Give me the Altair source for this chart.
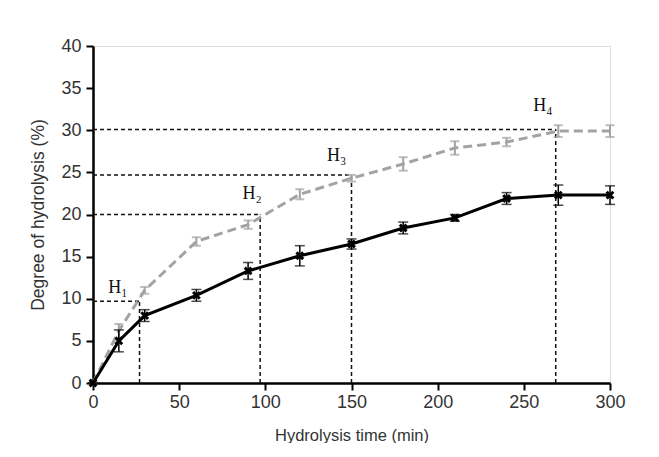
import altair as alt
import pandas as pd

times = [0, 15, 30, 60, 90, 120, 150, 180, 210, 240, 270, 300]
gray_vals = [0, 6.2, 11.0, 16.8, 18.8, 22.4, 24.3, 26.0, 27.9, 28.6, 29.9, 29.9]
gray_err = [0, 0.8, 0.4, 0.5, 0.5, 0.6, 0.4, 0.8, 0.8, 0.5, 0.7, 0.7]
black_vals = [0, 5.0, 8.0, 10.4, 13.3, 15.1, 16.5, 18.4, 19.6, 21.9, 22.3, 22.3]
black_err = [0, 1.3, 0.7, 0.7, 1.0, 1.2, 0.6, 0.7, 0.4, 0.7, 1.2, 1.1]

h_names = ["H\u2081", "H\u2082", "H\u2083", "H\u2084"]
h_x = [27, 97, 150, 268.5]
h_y = [9.7, 20.0, 24.7, 30.1]
lab_x = [14.5, 92.3, 141.4, 261]
lab_y = [11.3, 22.4, 26.9, 32.9]

gray = pd.DataFrame({"t": times, "v": gray_vals,
                     "lo": [v - e for v, e in zip(gray_vals, gray_err)],
                     "hi": [v + e for v, e in zip(gray_vals, gray_err)]})
black = pd.DataFrame({"t": times, "v": black_vals,
                      "lo": [v - e for v, e in zip(black_vals, black_err)],
                      "hi": [v + e for v, e in zip(black_vals, black_err)]})
hdf = pd.DataFrame({"name": h_names, "hx": h_x, "hy": h_y, "lx": lab_x, "ly": lab_y,
                    "zero": [0] * 4})

xs = alt.Scale(domain=[0, 300], nice=False)
ys = alt.Scale(domain=[0, 40], nice=False)

common = dict(grid=False, domainColor="black", domainWidth=2.5, tickColor="black",
              tickWidth=2, tickSize=7, labelFontSize=18, labelColor="#333",
              labelFont="Liberation Sans", titleFont="Liberation Sans",
              titleFontWeight="normal", titleColor="#333", labelFlush=False)
xax = alt.Axis(values=[0, 50, 100, 150, 200, 250, 300], title="Hydrolysis time (min)",
               titleFontSize=16.5, labelPadding=3, titlePadding=16, **common)
yax = alt.Axis(values=[0, 5, 10, 15, 20, 25, 30, 35, 40], title="Degree of hydrolysis (%)",
               titleFontSize=17.5, labelPadding=5, titlePadding=13, **common)

X = alt.X("t:Q", scale=xs, axis=xax)
Y = alt.Y("v:Q", scale=ys, axis=yax)

dash = [4, 3]
hline = alt.Chart(hdf).mark_rule(color="#111", strokeWidth=1.5, strokeDash=dash).encode(
    x=alt.X("zero:Q", scale=xs, axis=xax), x2="hx:Q", y=alt.Y("hy:Q", scale=ys, axis=yax))
vline = alt.Chart(hdf).mark_rule(color="#111", strokeWidth=1.5, strokeDash=dash).encode(
    x=alt.X("hx:Q", scale=xs), y=alt.Y("zero:Q", scale=ys), y2="hy:Q")
htext = alt.Chart(hdf).mark_text(font="Liberation Serif", fontSize=18, color="#111").encode(
    x=alt.X("lx:Q", scale=xs), y=alt.Y("ly:Q", scale=ys), text="name:N")

gcol = "#a3a3a3"
g_line = alt.Chart(gray).mark_line(color=gcol, strokeWidth=3, strokeDash=[9, 5]).encode(x=X, y=Y)
g_err = alt.Chart(gray).mark_rule(color=gcol, strokeWidth=2).encode(
    x=alt.X("t:Q", scale=xs), y=alt.Y("lo:Q", scale=ys), y2="hi:Q")
g_cap1 = alt.Chart(gray).mark_tick(color=gcol, thickness=2, size=9, orient="horizontal").encode(
    x=alt.X("t:Q", scale=xs), y=alt.Y("lo:Q", scale=ys))
g_cap2 = alt.Chart(gray).mark_tick(color=gcol, thickness=2, size=9, orient="horizontal").encode(
    x=alt.X("t:Q", scale=xs), y=alt.Y("hi:Q", scale=ys))

b_line = alt.Chart(black).mark_line(color="black", strokeWidth=3).encode(x=X, y=Y)
b_err = alt.Chart(black).mark_rule(color="black", strokeWidth=1.5).encode(
    x=alt.X("t:Q", scale=xs), y=alt.Y("lo:Q", scale=ys), y2="hi:Q")
b_cap1 = alt.Chart(black).mark_tick(color="black", thickness=1.5, size=10, orient="horizontal").encode(
    x=alt.X("t:Q", scale=xs), y=alt.Y("lo:Q", scale=ys))
b_cap2 = alt.Chart(black).mark_tick(color="black", thickness=1.5, size=10, orient="horizontal").encode(
    x=alt.X("t:Q", scale=xs), y=alt.Y("hi:Q", scale=ys))
b_pts = alt.Chart(black).mark_point(shape="M-1,-1L1,1M-1,1L1,-1", filled=False, color="black",
                                    strokeWidth=3, size=45, opacity=1).encode(
    x=alt.X("t:Q", scale=xs), y=alt.Y("v:Q", scale=ys))

chart = alt.layer(hline, vline, htext, g_line, g_err, g_cap1, g_cap2,
                  b_line, b_err, b_cap1, b_cap2, b_pts).properties(
    width=517, height=337,
    autosize=alt.AutoSizeParams(type="none"),
    padding={"left": 85, "top": 38, "right": 41, "bottom": 60},
).configure_view(stroke=None).configure(background="white")

chart.save("out.html", embed_options={"renderer": "svg", "actions": False})
